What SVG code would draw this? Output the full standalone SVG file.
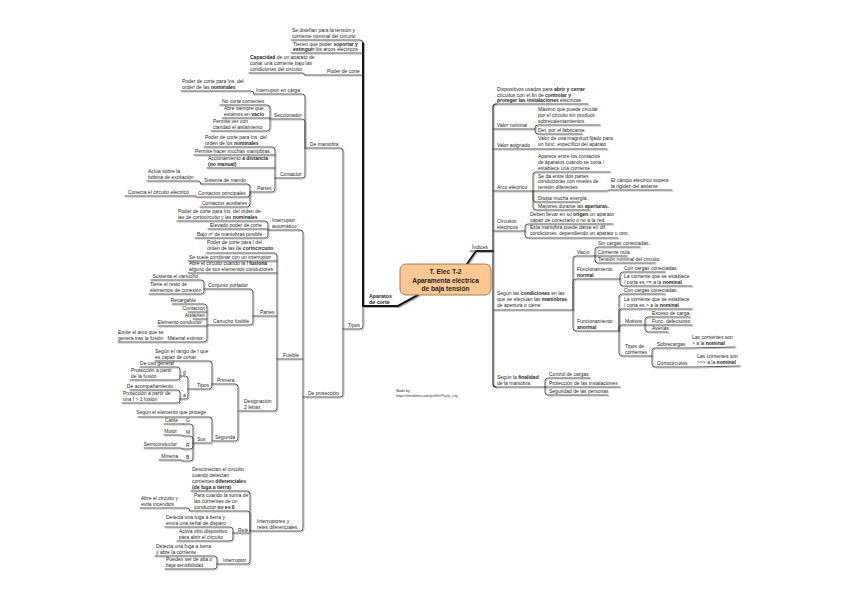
<svg xmlns="http://www.w3.org/2000/svg" width="848" height="599" viewBox="0 0 848 599">
<style>
.t{font-family:"Liberation Sans",Arial,sans-serif;font-size:5px;fill:#262626}
.e{text-anchor:end}
.b{font-weight:bold}
.l{fill:none;stroke:#404040;stroke-width:0.85;stroke-linecap:round}
.m{fill:none;stroke:#2a2a2a;stroke-width:1.2;stroke-linecap:round}
.k{fill:none;stroke:#141414;stroke-width:2;stroke-linecap:round;stroke-linejoin:round}
.sm{font-family:"Liberation Sans",Arial,sans-serif;font-size:3.6px;fill:#333}
</style>
<defs>
<filter id="sh" x="-5%" y="-5%" width="110%" height="110%">
<feOffset in="SourceAlpha" dx="0.5" dy="0.7" result="o"/>
<feFlood flood-color="#b0b0b0"/>
<feComposite in2="o" operator="in" result="s"/>
<feMerge><feMergeNode in="s"/><feMergeNode in="SourceGraphic"/></feMerge>
</filter>
</defs>
<rect width="848" height="599" fill="#fff"/>
<g id="connectors" filter="url(#sh)">
<path class="k" d="M363 306 H398 L418 295"/>
<path class="k" d="M363 43 V306"/>
<path class="k" d="M467 264 L476 251 H493"/>
<path class="l" d="M291 40 H360 Q363 40 363 43"/>
<path class="l" d="M291 53 H363"/>
<path class="l" d="M305 75 H363"/>
<path class="l" d="M249 73 H302 Q305 73 305 75"/>
<path class="l" d="M343 329 H360 Q363 329 363 326 V306"/>
<path class="l" d="M305 148 H340 Q343 148 343 151 V329"/>
<path class="l" d="M303 397 H340 Q343 397 343 394 V329"/>
<path class="l" d="M254 94 H302 Q305 94 305 97 V148"/>
<path class="l" d="M270 119 H302 Q305 119 305 122 V148"/>
<path class="l" d="M275 178 H302 Q305 178 305 175 V148"/>
<path class="l" d="M181 91 H251 Q254 91 254 94"/>
<path class="l" d="M220 105 H267 Q270 105 270 108 V119"/>
<path class="l" d="M222 118 H270"/>
<path class="l" d="M211 131 H267 Q270 131 270 128 V119"/>
<path class="l" d="M204 147 H272 Q275 147 275 150 V178"/>
<path class="l" d="M194 155 H275"/>
<path class="l" d="M207 168 H275"/>
<path class="l" d="M250 192 H272 Q275 192 275 189 V178"/>
<path class="l" d="M201 184 H247 Q250 184 250 187 V192"/>
<path class="l" d="M196 197 H247 Q250 197 250 194 V192"/>
<path class="l" d="M200 207 H247 Q250 207 250 204 V192"/>
<path class="l" d="M147 181 H198 Q201 181 201 184"/>
<path class="l" d="M125 196 H196"/>
<path class="l" d="M268 230 H300 Q303 230 303 233 V397"/>
<path class="l" d="M277 359 H303"/>
<path class="l" d="M250 531 H300 Q303 531 303 528 V397"/>
<path class="l" d="M177 221 H265 Q268 221 268 224 V230"/>
<path class="l" d="M208 229 H268"/>
<path class="l" d="M195 238 H265 Q268 238 268 235 V230"/>
<path class="l" d="M206 253 H274 Q277 253 277 256 V359"/>
<path class="l" d="M188 261 H277"/>
<path class="l" d="M188 273 H277"/>
<path class="l" d="M253 316 H277"/>
<path class="l" d="M239 411 H274 Q277 411 277 408 V359"/>
<path class="l" d="M204 289 H250 Q253 289 253 292 V316"/>
<path class="l" d="M208 325 H250 Q253 325 253 322 V316"/>
<path class="l" d="M151 280 H201 Q204 280 204 283 V289"/>
<path class="l" d="M149 294 H201 Q204 294 204 291 V289"/>
<path class="l" d="M172 304 H204 Q207 304 207 307 V325"/>
<path class="l" d="M188 312 H207"/>
<path class="l" d="M193 319 H207"/>
<path class="l" d="M158 326 H207"/>
<path class="l" d="M165 342 H204 Q207 342 207 339 V325"/>
<path class="l" d="M118 342 H165"/>
<path class="l" d="M212 384 H235 Q238 384 238 387 V411"/>
<path class="l" d="M212 441 H235 Q238 441 238 438 V411"/>
<path class="l" d="M155 361 H209 Q212 361 212 364 V384"/>
<path class="l" d="M188 389 H209 Q212 389 212 386 V384"/>
<path class="l" d="M180 376 H185 Q188 376 188 379 V389"/>
<path class="l" d="M180 399 H185 Q188 399 188 396 V389"/>
<path class="l" d="M140 367 H177 Q180 367 180 370 V376"/>
<path class="l" d="M130 380 H177 Q180 380 180 377 V376"/>
<path class="l" d="M130 390 H177 Q180 390 180 393 V399"/>
<path class="l" d="M122 403 H177 Q180 403 180 400 V399"/>
<path class="l" d="M138 417 H209 Q212 417 212 420 V441"/>
<path class="l" d="M193 443 H212"/>
<path class="l" d="M183 424 H190 Q193 424 193 427 V443"/>
<path class="l" d="M183 436 H190 Q193 436 193 439 V443"/>
<path class="l" d="M183 449 H190 Q193 449 193 446 V443"/>
<path class="l" d="M183 461 H190 Q193 461 193 458 V443"/>
<path class="l" d="M164 424 H183"/>
<path class="l" d="M164 435 H180 Q183 435 183 436"/>
<path class="l" d="M144 448 H180 Q183 448 183 449"/>
<path class="l" d="M159 460 H180 Q183 460 183 461"/>
<path class="l" d="M191 491 H247 Q250 491 250 494 V531"/>
<path class="l" d="M190 511 H247 Q250 511 250 514 V531"/>
<path class="l" d="M233 533 H250"/>
<path class="l" d="M217 564 H247 Q250 564 250 561 V531"/>
<path class="l" d="M140 508 H187 Q190 508 190 511"/>
<path class="l" d="M165 527 H230 Q233 527 233 530 V533"/>
<path class="l" d="M177 541 H230 Q233 541 233 538 V533"/>
<path class="l" d="M155 556 H214 Q217 556 217 559 V564"/>
<path class="l" d="M165 569 H214 Q217 569 217 566 V564"/>
<path class="l" d="M470 251 H493"/>
<path class="m" d="M493 251 V107 Q493 104 496 104"/>
<path class="l" d="M496 104 H588"/>
<path class="m" d="M493 251 V384 Q493 387 496 387"/>
<path class="l" d="M496 387 H545"/>
<path class="l" d="M493 129 H535"/>
<path class="l" d="M493 149 H607"/>
<path class="l" d="M493 191 H533"/>
<path class="l" d="M493 231 H525"/>
<path class="l" d="M493 310 H573"/>
<path class="l" d="M535 129 V128 Q535 125 538 125 H600"/>
<path class="l" d="M535 129 V131 Q535 134 538 134 H582"/>
<path class="l" d="M533 191 V175 Q533 172 536 172 H610"/>
<path class="l" d="M533 191 H606 Q608 191 609 190 H672"/>
<path class="l" d="M533 191 V199 Q533 202 536 202 H580"/>
<path class="l" d="M533 191 V207 Q533 210 536 210 H590"/>
<path class="l" d="M525 231 V227 Q525 224 528 224 H613"/>
<path class="l" d="M525 231 V235 Q525 238 528 238 H618"/>
<path class="l" d="M573 310 V259 Q573 256 576 256 H595"/>
<path class="l" d="M573 310 V282 Q573 279 576 279 H620"/>
<path class="l" d="M573 310 V328 Q573 331 576 331 H619"/>
<path class="l" d="M595 256 V250 Q595 247 598 247 H640"/>
<path class="l" d="M595 256 H627"/>
<path class="l" d="M595 256 V260 Q595 263 598 263 H655"/>
<path class="l" d="M620 279 V275 Q620 272 623 272 H665"/>
<path class="l" d="M620 279 V283 Q620 286 623 286 H692"/>
<path class="l" d="M619 331 V297 Q619 294 622 294 H665"/>
<path class="l" d="M619 331 V312 Q619 309 622 309 H692"/>
<path class="l" d="M619 331 V328 Q619 325 622 325 H645"/>
<path class="l" d="M619 331 V353 Q619 356 622 356 H652"/>
<path class="l" d="M645 325 V320 Q645 317 648 317 H690"/>
<path class="l" d="M645 325 H692"/>
<path class="l" d="M645 325 V329 Q645 332 648 332 H668"/>
<path class="l" d="M652 356 V351 Q652 348 655 348 H690 L735 347"/>
<path class="l" d="M652 356 V364 Q652 367 655 367 H695 L740 366"/>
<path class="l" d="M545 387 V381 Q545 378 548 378 H590"/>
<path class="l" d="M545 387 H620"/>
<path class="l" d="M545 387 V392 Q545 395 548 395 H608"/>
</g>
<g id="center">
<rect x="400" y="264" width="91" height="31" rx="6" fill="#fbc793" stroke="#8c6239" stroke-width="0.8"/>
<text class="t b" x="445.5" y="274" text-anchor="middle" style="font-size:6.6px">T. Elec T-2</text>
<text class="t b" x="445.5" y="282.5" text-anchor="middle" style="font-size:6.6px">Aparamenta eléctrica</text>
<text class="t b" x="445.5" y="291" text-anchor="middle" style="font-size:6.6px">de baja tensión</text>
</g>
<g id="n-aparatos"><text class="t b" x="369" y="298" style="font-size:5.3px">Aparatos</text><text class="t b" x="369" y="304" style="font-size:5.3px">de corte</text></g>
<g id="n-sediseñan"><text class="t" x="292" y="32">Se diseñan para la tensión y</text><text class="t" x="292" y="38">corriente nominal del circuito</text></g>
<g id="n-tienen"><text class="t" x="293" y="46">Tienen que poder <tspan class="b">soportar y</tspan></text><text class="t" x="293" y="51"><tspan class="b">extinguir</tspan> los arcos eléctricos</text></g>
<g id="n-capacidad"><text class="t" x="250" y="59"><tspan class="b">Capacidad</tspan> de un aparato de</text><text class="t" x="250" y="65">cortar una corriente bajo las</text><text class="t" x="250" y="71">condiciones del circuito</text></g>
<g id="n-podercorte"><text class="t" x="327" y="73">Poder de corte</text></g>
<g id="n-tipos"><text class="t" x="348" y="327">Tipos</text></g>
<g id="n-demaniobra"><text class="t" x="310" y="146">De maniobra</text></g>
<g id="n-deproteccion"><text class="t" x="308" y="395">De protección</text></g>
<g id="n-intcarga"><text class="t" x="256" y="92">Interruptor en carga</text></g>
<g id="n-pc1"><text class="t" x="182" y="83">Poder de corte para Ins. del</text><text class="t" x="182" y="89">orden de las <tspan class="b">nominales</tspan></text></g>
<g id="n-seccionador"><text class="t" x="274" y="117">Seccionador</text></g>
<g id="n-nocorta"><text class="t" x="222" y="103">No corta corrientes</text></g>
<g id="n-abresiempre"><text class="t" x="224" y="110">Abre siempre que</text><text class="t" x="224" y="116">estamos en <tspan class="b">vacío</tspan></text></g>
<g id="n-permitever"><text class="t" x="213" y="123">Permite ver con</text><text class="t" x="213" y="129">claridad el aislamiento</text></g>
<g id="n-contactor"><text class="t" x="280" y="176">Contactor</text></g>
<g id="n-pc2"><text class="t" x="205" y="139">Poder de corte para Ins. del</text><text class="t" x="205" y="145">orden de los <tspan class="b">nominales</tspan></text></g>
<g id="n-permitehacer"><text class="t" x="195" y="153">Permite hacer muchas maniobras</text></g>
<g id="n-accionamiento"><text class="t" x="208" y="160">Accionamiento <tspan class="b">a distancia</tspan></text><text class="t b" x="208" y="166">(no manual)</text></g>
<g id="n-partes1"><text class="t" x="257" y="190">Partes</text></g>
<g id="n-sistema"><text class="t" x="204" y="182">Sistema de mando</text></g>
<g id="n-actua"><text class="t" x="148" y="173">Actúa sobre la</text><text class="t" x="148" y="179">bobina de excitación</text></g>
<g id="n-contprin"><text class="t" x="198" y="195">Contactos principales</text></g>
<g id="n-conecta"><text class="t e" x="189" y="194">Conecta el circuito eléctrico</text></g>
<g id="n-contaux"><text class="t" x="202" y="205">Contactos auxiliares</text></g>
<g id="n-intauto"><text class="t" x="272" y="222">Interruptor</text><text class="t" x="272" y="228">automático</text></g>
<g id="n-pc3"><text class="t" x="178" y="213">Poder de corte para Ins. del orden de</text><text class="t" x="178" y="219">las de cortocircuito y las <tspan class="b">nominales</tspan></text></g>
<g id="n-elevado"><text class="t" x="210" y="227">Elevado poder de corte</text></g>
<g id="n-bajo"><text class="t" x="197" y="236">Bajo nº de maniobras posible</text></g>
<g id="n-fusible"><text class="t" x="283" y="357">Fusible</text></g>
<g id="n-pc4"><text class="t" x="207" y="244">Poder de corte para I del</text><text class="t" x="207" y="250">orden de las de <tspan class="b">cortocircuito</tspan></text></g>
<g id="n-sesuele"><text class="t" x="189" y="259">Se suele combinar con un interruptor</text></g>
<g id="n-abrecircuito"><text class="t" x="189" y="265">Abre el circuito cuando la I <tspan class="b">fusiona</tspan></text><text class="t" x="189" y="271">alguno de sus elementos conductores</text></g>
<g id="n-partes2"><text class="t" x="260" y="314">Partes</text></g>
<g id="n-conjunto"><text class="t" x="208" y="287">Conjunto portador</text></g>
<g id="n-sustenta"><text class="t e" x="198" y="278">Sustenta el cartucho</text></g>
<g id="n-tiene"><text class="t" x="150" y="286">Tiene el resto de</text><text class="t" x="150" y="292">elementos de conexión</text></g>
<g id="n-cartucho"><text class="t" x="213" y="323">Cartucho fusible</text></g>
<g id="n-recargable"><text class="t e" x="196" y="302">Recargable</text></g>
<g id="n-contactos"><text class="t e" x="205" y="310">Contactos</text></g>
<g id="n-aislantes"><text class="t e" x="205" y="317">Aislantes</text></g>
<g id="n-elemento"><text class="t e" x="202" y="324">Elemento conductor</text></g>
<g id="n-material"><text class="t e" x="203" y="340">Material extintor</text></g>
<g id="n-emite"><text class="t" x="118" y="334">Emite el arco que se</text><text class="t" x="118" y="340">genera tras la fusión</text></g>
<g id="n-designacion"><text class="t" x="244" y="403">Designación</text><text class="t" x="244" y="409">2 letras</text></g>
<g id="n-primera"><text class="t" x="217" y="382">Primera</text></g>
<g id="n-segunda"><text class="t" x="215" y="439">Segunda</text></g>
<g id="n-rango"><text class="t" x="155" y="353">Según el rango de I que</text><text class="t" x="155" y="359">es capaz de cortar</text></g>
<g id="n-tipos2"><text class="t" x="197" y="387">Tipos</text></g>
<g id="n-g"><text class="t" x="183" y="374">g</text></g>
<g id="n-a"><text class="t" x="183" y="397">a</text></g>
<g id="n-usogeneral"><text class="t e" x="174" y="365">De uso general</text></g>
<g id="n-prot1"><text class="t" x="131" y="372">Protección a partir</text><text class="t" x="131" y="378">de la fusión</text></g>
<g id="n-acomp"><text class="t e" x="173" y="388">De acompañamiento</text></g>
<g id="n-prot2"><text class="t" x="123" y="395">Protección a partir de</text><text class="t" x="123" y="401">una I &gt; 1 fusión</text></g>
<g id="n-segun"><text class="t e" x="206" y="414">Según el elemento que protege</text></g>
<g id="n-sus"><text class="t" x="197" y="441">Sus</text></g>
<g id="n-G"><text class="t" x="186" y="422">G</text></g>
<g id="n-M"><text class="t" x="186" y="434">M</text></g>
<g id="n-R"><text class="t" x="186" y="447">R</text></g>
<g id="n-B"><text class="t" x="186" y="459">B</text></g>
<g id="n-cable"><text class="t e" x="178" y="422">Cable</text></g>
<g id="n-motor"><text class="t e" x="177" y="433">Motor</text></g>
<g id="n-semi"><text class="t e" x="177" y="446">Semiconductor</text></g>
<g id="n-mineria"><text class="t e" x="178" y="458">Minería</text></g>
<g id="n-ird"><text class="t" x="257" y="523">Interruptores y</text><text class="t" x="257" y="529">relés diferenciales</text></g>
<g id="n-desconectan"><text class="t" x="192" y="471">Desconectan el circuito</text><text class="t" x="192" y="477">cuando detectan</text><text class="t" x="192" y="483">corrientes <tspan class="b">diferenciales</tspan></text><text class="t b" x="192" y="489">(de fuga a tierra)</text></g>
<g id="n-para"><text class="t" x="194" y="497">Para cuando la suma de</text><text class="t" x="194" y="503">las corrientes de un</text><text class="t" x="194" y="509">conductor <tspan class="b">no es 0</tspan></text></g>
<g id="n-abrey"><text class="t" x="141" y="500">Abre el circuito y</text><text class="t" x="141" y="506">evita incendios</text></g>
<g id="n-rele"><text class="t" x="238" y="532">Relé</text></g>
<g id="n-detecta1"><text class="t" x="166" y="519">Detecta una fuga a tierra y</text><text class="t" x="166" y="525">envía una señal de disparo</text></g>
<g id="n-activa"><text class="t" x="179" y="533">Activa otro dispositivo</text><text class="t" x="179" y="539">para abrir el circuito</text></g>
<g id="n-interruptor"><text class="t" x="223" y="562">Interruptor</text></g>
<g id="n-detecta2"><text class="t" x="156" y="548">Detecta una fuga a tierra</text><text class="t" x="156" y="554">y abre la corriente</text></g>
<g id="n-pueden"><text class="t" x="166" y="561">Pueden ser de alta o</text><text class="t" x="166" y="567">baja sensibilidad</text></g>
<g id="n-indices"><text class="t" x="472" y="249">Índices</text></g>
<g id="n-dispositivos"><text class="t" x="497" y="91">Dispositivos usados para <tspan class="b">abrir y cerrar</tspan></text><text class="t" x="497" y="97">circuitos con el fin de <tspan class="b">controlar y</tspan></text><text class="t" x="497" y="102"><tspan class="b">proteger las instalaciones</tspan> eléctricas</text></g>
<g id="n-vnominal"><text class="t" x="497" y="127">Valor nominal</text></g>
<g id="n-maximo"><text class="t" x="538" y="111">Máximo que puede circular</text><text class="t" x="538" y="117">por el circuito sin producir</text><text class="t" x="538" y="123">sobrecalentamientos</text></g>
<g id="n-det"><text class="t" x="538" y="132">Det. por el fabricante.</text></g>
<g id="n-vasignado"><text class="t" x="497" y="147">Valor asignado</text></g>
<g id="n-valorde"><text class="t" x="538" y="140">Valor de una magnitud fijado para</text><text class="t" x="538" y="146">un func. específico del aparato</text></g>
<g id="n-arco"><text class="t" x="497" y="189">Arco eléctrico</text></g>
<g id="n-aparece"><text class="t" x="538" y="158">Aparece entre los contactos</text><text class="t" x="538" y="164">de aparatos cuando se corta /</text><text class="t" x="538" y="170">establece una corriente</text></g>
<g id="n-seda"><text class="t" x="538" y="178">Se da entre dos partes</text><text class="t" x="538" y="183">conductoras con niveles de</text><text class="t" x="538" y="189">tensión diferentes</text></g>
<g id="n-campo"><text class="t" x="611" y="182">El campo eléctrico supera</text><text class="t" x="611" y="188">la rigidez del aislante</text></g>
<g id="n-disipa"><text class="t" x="538" y="200">Disipa mucha energía.</text></g>
<g id="n-mayores"><text class="t" x="538" y="208">Mayores durante las <tspan class="b">aperturas.</tspan></text></g>
<g id="n-circuitos"><text class="t" x="497" y="223">Circuitos</text><text class="t" x="497" y="229">eléctricos</text></g>
<g id="n-deben"><text class="t" x="530" y="216">Deben llevar en su <tspan class="b">origen</tspan> un aparato</text><text class="t" x="530" y="222">capaz de conectarlo o no a la red.</text></g>
<g id="n-esta"><text class="t" x="530" y="229">Esta maniobra puede darse en dif.</text><text class="t" x="530" y="235">condiciones, dependiendo un aparato u otro.</text></g>
<g id="n-condiciones"><text class="t" x="497" y="295">Según las <tspan class="b">condiciones</tspan> en las</text><text class="t" x="497" y="301">que se efectúan las <tspan class="b">maniobras</tspan></text><text class="t" x="497" y="307">de apertura o cierre</text></g>
<g id="n-vacio"><text class="t" x="577" y="254">Vacío</text></g>
<g id="n-sincargas"><text class="t" x="598" y="245">Sin cargas conectadas.</text></g>
<g id="n-corrnula"><text class="t" x="598" y="254">Corriente nula.</text></g>
<g id="n-tension"><text class="t" x="598" y="261">Tensión nominal del circuito</text></g>
<g id="n-fnormal"><text class="t" x="577" y="271">Funcionamiento</text><text class="t b" x="577" y="277">normal</text></g>
<g id="n-concargas1"><text class="t" x="624" y="270">Con cargas conectadas.</text></g>
<g id="n-lacorr1"><text class="t" x="624" y="278">La corriente que se establece</text><text class="t" x="624" y="284">/ corta es &lt;= a la <tspan class="b">nominal</tspan></text></g>
<g id="n-fanormal"><text class="t" x="577" y="323">Funcionamiento</text><text class="t b" x="577" y="329">anormal</text></g>
<g id="n-concargas2"><text class="t" x="624" y="292">Con cargas conectadas.</text></g>
<g id="n-lacorr2"><text class="t" x="624" y="301">La corriente que se establece</text><text class="t" x="624" y="307">/ corta es &gt; a la <tspan class="b">nominal</tspan></text></g>
<g id="n-motivos"><text class="t" x="625" y="323">Motivos</text></g>
<g id="n-exceso"><text class="t" x="652" y="315">Exceso de carga.</text></g>
<g id="n-func"><text class="t" x="652" y="323">Func. defectuoso</text></g>
<g id="n-averias"><text class="t" x="652" y="330">Averías.</text></g>
<g id="n-tiposcorr"><text class="t" x="625" y="348">Tipos de</text><text class="t" x="625" y="354">corrientes</text></g>
<g id="n-sobrecargas"><text class="t" x="657" y="346">Sobrecargas</text></g>
<g id="n-lascorr1"><text class="t" x="692" y="339">Las corrientes son</text><text class="t" x="692" y="345">&gt; a la <tspan class="b">nominal</tspan></text></g>
<g id="n-cortocircuitos"><text class="t" x="657" y="365">Cortocircuitos</text></g>
<g id="n-lascorr2"><text class="t" x="697" y="358">Las corrientes son</text><text class="t" x="697" y="364">&gt;&gt;&gt; a la <tspan class="b">nominal</tspan></text></g>
<g id="n-finalidad"><text class="t" x="497" y="379">Según la <tspan class="b">finalidad</tspan></text><text class="t" x="497" y="385">de la maniobra</text></g>
<g id="n-control"><text class="t" x="549" y="376">Control de cargas.</text></g>
<g id="n-proteccion"><text class="t" x="549" y="385">Protección de las instalaciones</text></g>
<g id="n-seguridad"><text class="t" x="549" y="393">Seguridad de las personas</text></g>
<g id="madeby"><text class="sm" x="396" y="392">Made by:</text><text class="sm" x="396" y="397">https://mindomo.com/profile/Paula_city</text></g>
</svg>
